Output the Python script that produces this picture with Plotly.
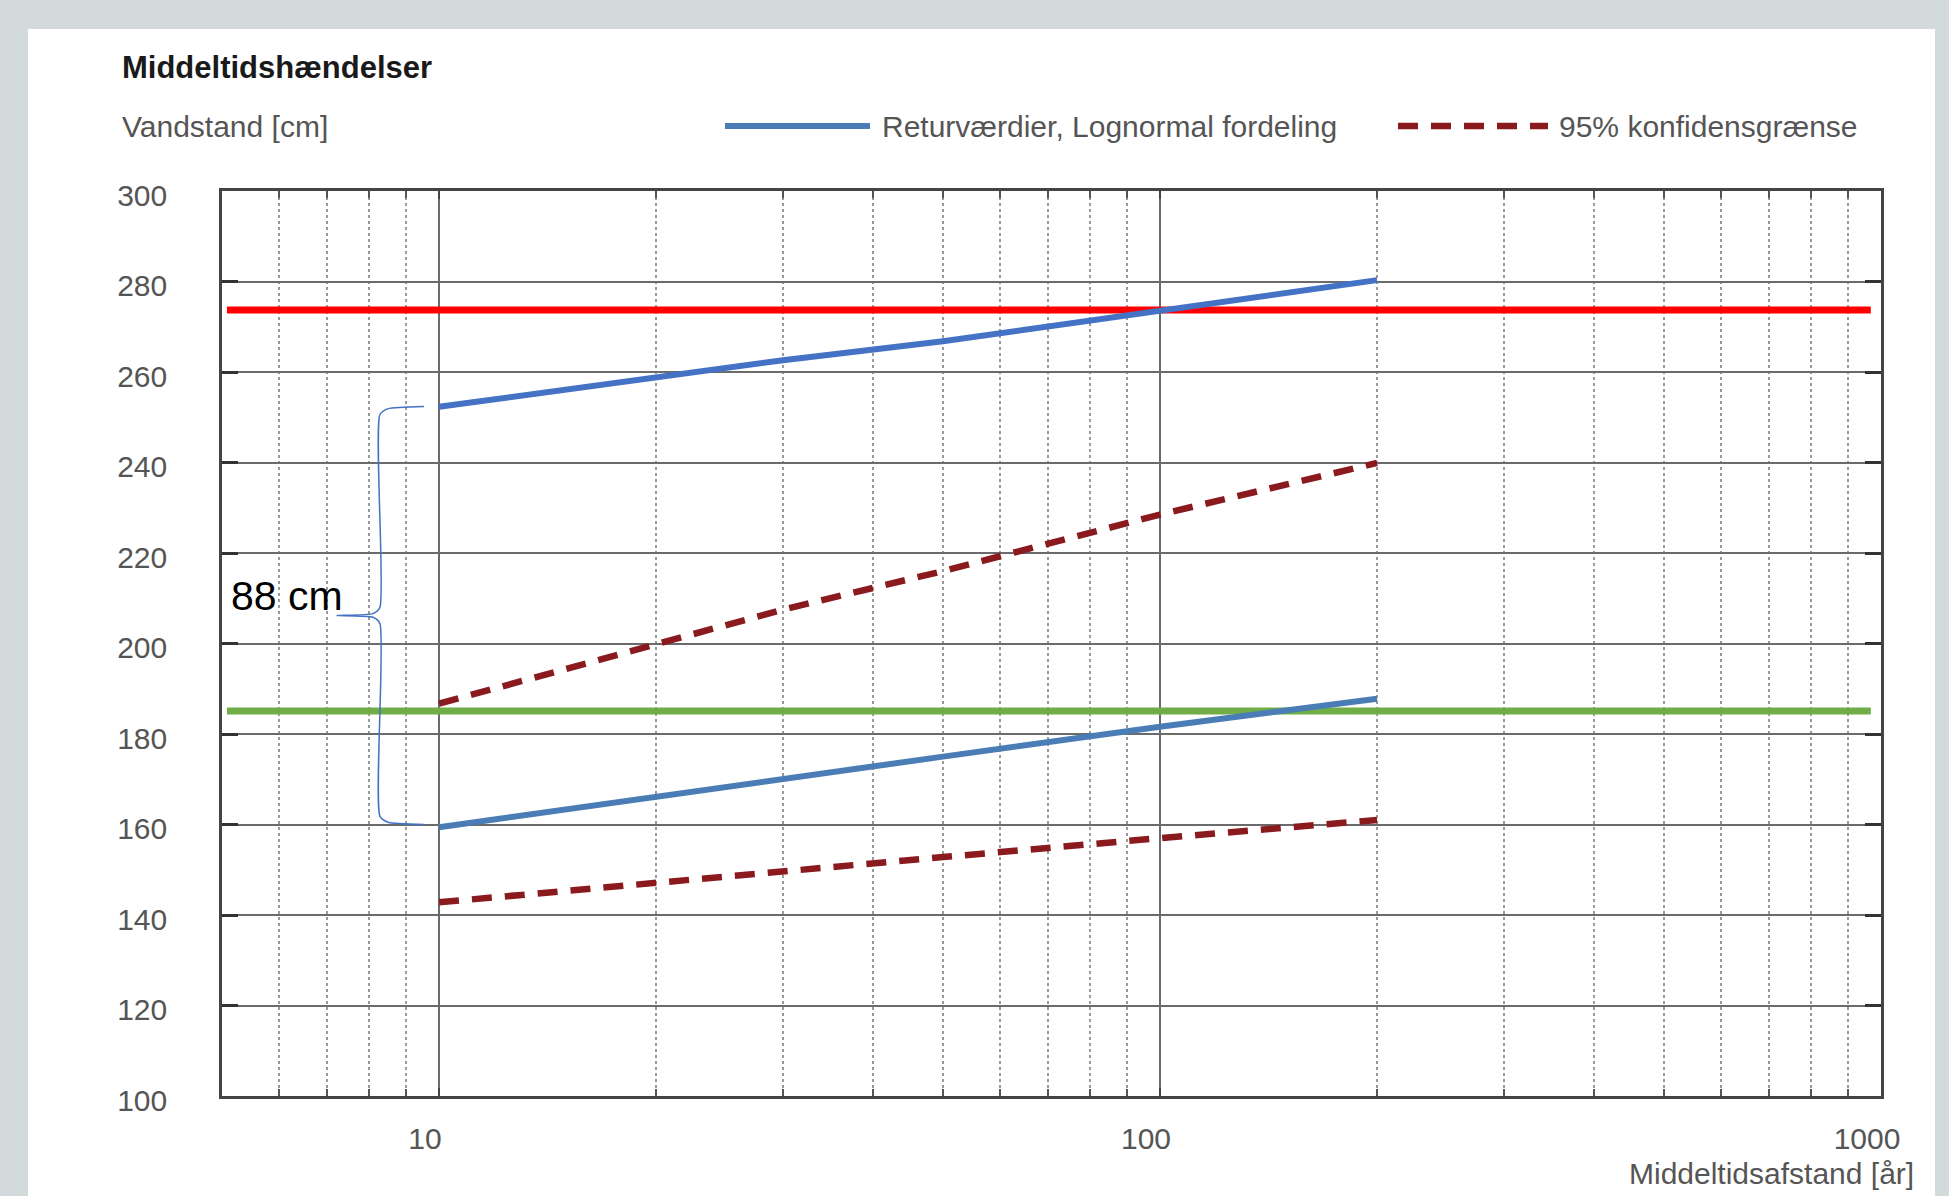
import plotly.graph_objects as go

# ---- data ----
return_periods = [10, 20, 30, 50, 100, 200]
return_upper = [252.3, 258.8, 262.6, 266.8, 273.6, 280.3]
return_lower = [159.4, 166.2, 170.0, 175.0, 181.6, 187.8]
conf_upper = [186.7, 199.6, 207.5, 216.0, 228.5, 239.9]
conf_lower = [142.8, 147.2, 149.7, 152.8, 157.0, 161.0]

ref_x = [5.08, 968]
red_level = 273.7
green_level = 185.1

brace_x = [9.53, 8.5, 8.28, 8.28, 8.1, 7.22, 8.1, 8.28, 8.28, 8.5, 9.53]
brace_y = [252.4, 251.9, 250.6, 208.0, 206.6, 206.2, 205.8, 204.4, 161.8, 160.5, 160.0]

x_tickvals = [10, 100, 1000]
x_ticktext = ["10", "100", "1000"]
x_minor = [6, 7, 8, 9, 20, 30, 40, 50, 60, 70, 80, 90, 200, 300, 400, 500, 600, 700, 800, 900]
y_tickvals = [100, 120, 140, 160, 180, 200, 220, 240, 260, 280, 300]

FONT = "Liberation Sans, Arial, sans-serif"
BLUE_BRIGHT = "#4472C4"
BLUE_STEEL = "#4A7DB5"
DARK_RED = "#8B1A1F"

fig = go.Figure()

fig.add_trace(go.Scatter(x=ref_x, y=[red_level, red_level], mode="lines",
                         line=dict(color="#FF0000", width=7), hoverinfo="skip"))
fig.add_trace(go.Scatter(x=ref_x, y=[green_level, green_level], mode="lines",
                         line=dict(color="#70AD47", width=7), hoverinfo="skip"))
fig.add_trace(go.Scatter(x=return_periods, y=conf_upper, mode="lines",
                         line=dict(color=DARK_RED, width=6.5, dash="20px,13px")))
fig.add_trace(go.Scatter(x=return_periods, y=conf_lower, mode="lines",
                         line=dict(color=DARK_RED, width=6.5, dash="20px,13px")))
fig.add_trace(go.Scatter(x=return_periods, y=return_lower, mode="lines",
                         line=dict(color=BLUE_STEEL, width=6)))
fig.add_trace(go.Scatter(x=return_periods, y=return_upper, mode="lines",
                         line=dict(color=BLUE_BRIGHT, width=6)))
fig.add_trace(go.Scatter(x=brace_x, y=brace_y, mode="lines",
                         line=dict(color=BLUE_BRIGHT, width=1.5, shape="spline", smoothing=0.6),
                         hoverinfo="skip"))

L, R, T, B = 222, 68, 191, 100
W, H = 1949, 1196
pw, ph = W - L - R, H - T - B


def xp(px):
    return (px - L) / pw


def yp(py):
    return (H - B - py) / ph


fig.update_layout(
    width=W, height=H, autosize=False,
    margin=dict(l=L, r=R, t=T, b=B, pad=0),
    paper_bgcolor="#D3DADC",
    plot_bgcolor="white",
    showlegend=False,
    font=dict(family=FONT, size=30, color="#555555"),
)

fig.update_xaxes(
    type="log", range=[0.69897, 3],
    tickvals=x_tickvals, ticktext=x_ticktext,
    showgrid=True, gridcolor="#6B6B6B", gridwidth=2,
    showline=True, linecolor="#444444", linewidth=2.5, mirror="ticks",
    ticks="inside", ticklen=8, tickwidth=2, tickcolor="#444444",
    tickfont=dict(family=FONT, size=30, color="#555555"),
    ticklabelstandoff=14, ticklabelshift=-14,
    minor=dict(tickvals=x_minor, showgrid=True, gridcolor="#9A9A9A", gridwidth=1.5,
               griddash="dot", ticks="inside", ticklen=7, tickwidth=1.5, tickcolor="#555555"),
    zeroline=False,
)
fig.update_yaxes(
    range=[100, 300], tickvals=y_tickvals,
    showgrid=True, gridcolor="#6B6B6B", gridwidth=2,
    showline=True, linecolor="#444444", linewidth=2.5, mirror="ticks",
    ticks="inside", ticklen=16, tickwidth=3, tickcolor="#333333",
    tickfont=dict(family=FONT, size=30, color="#555555"),
    ticklabelstandoff=46, ticklabelshift=4,
    zeroline=False,
)

shapes = [
    dict(type="rect", xref="paper", yref="paper", x0=xp(28), x1=xp(1935), y0=yp(1300), y1=yp(29),
         fillcolor="white", line=dict(width=0), layer="below"),
    dict(type="line", xref="paper", yref="paper", x0=xp(725), x1=xp(870), y0=yp(126), y1=yp(126),
         line=dict(color=BLUE_STEEL, width=6)),
    dict(type="line", xref="paper", yref="paper", x0=xp(1398), x1=xp(1548), y0=yp(126), y1=yp(126),
         line=dict(color=DARK_RED, width=6.5, dash="20px,13px")),
]
fig.update_layout(shapes=shapes)

annotations = [
    dict(text="<b>Middeltidshændelser</b>", xref="paper", yref="paper", x=xp(120), y=yp(67),
         xanchor="left", yanchor="middle", showarrow=False,
         font=dict(family=FONT, size=31, color="#1A1A1A")),
    dict(text="Vandstand [cm]", xref="paper", yref="paper", x=xp(120), y=yp(126),
         xanchor="left", yanchor="middle", showarrow=False,
         font=dict(family=FONT, size=30, color="#555555")),
    dict(text="Returværdier, Lognormal fordeling", xref="paper", yref="paper", x=xp(880), y=yp(126),
         xanchor="left", yanchor="middle", showarrow=False,
         font=dict(family=FONT, size=30, color="#555555")),
    dict(text="95% konfidensgrænse", xref="paper", yref="paper", x=xp(1557), y=yp(126),
         xanchor="left", yanchor="middle", showarrow=False,
         font=dict(family=FONT, size=30, color="#555555")),
    dict(text="Middeltidsafstand [år]", xref="paper", yref="paper", x=xp(1916), y=yp(1173),
         xanchor="right", yanchor="middle", showarrow=False,
         font=dict(family=FONT, size=30, color="#555555")),
    dict(text="88 cm", xref="paper", yref="y", x=xp(229), y=210.6,
         xanchor="left", yanchor="middle", showarrow=False,
         font=dict(family=FONT, size=41, color="#000000")),
]
fig.update_layout(annotations=annotations)

fig.write_html("out.html", config={"displayModeBar": False},
               post_script="document.body.style.margin='0';document.body.style.overflow='hidden';")
